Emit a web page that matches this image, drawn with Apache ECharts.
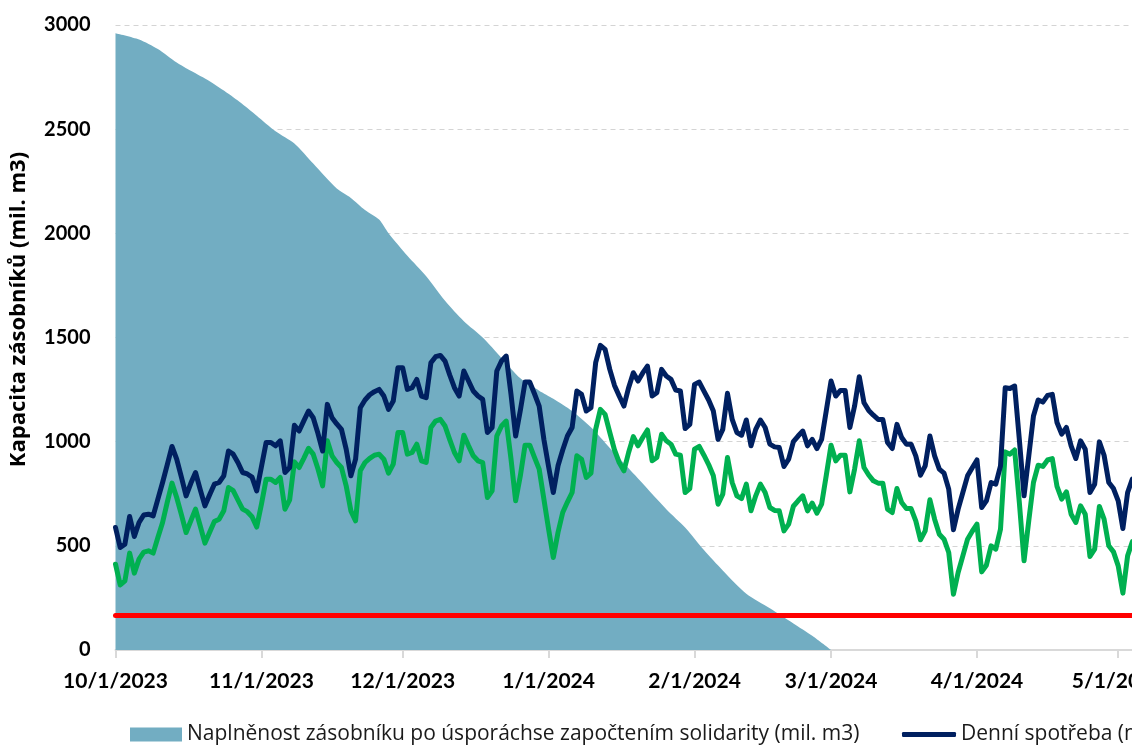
<!DOCTYPE html>
<html>
<head>
<meta charset="utf-8">
<script src="https://cdn.jsdelivr.net/npm/echarts@6/dist/echarts.min.js"></script>
<style>
  html, body { margin: 0; padding: 0; background: #ffffff; overflow: hidden; }
  #chart { width: 1132px; height: 747px; }
</style>
</head>
<body>
<div id="chart"></div>
<script>
// ---------------- data ----------------
const storageName = 'Naplněnost zásobníku po úsporáchse započtením solidarity (mil. m3)';
const demandName = 'Denní spotřeba (mil. m3)';
const demandSavedName = 'Denní spotřeba po úsporách (mil. m3)';
const thresholdName = 'Minimální úroveň zásob (mil. m3)';

const axisStart = '2023-10-01';
const axisEnd = '2024-06-01';
const monthTicks = ['2023-10-01', '2023-11-01', '2023-12-01', '2024-01-01', '2024-02-01',
                    '2024-03-01', '2024-04-01', '2024-05-01', '2024-06-01'];

// storage level (area), mil. m3
const storage = [
  ['2023-10-01', 2961], ['2023-10-06', 2931], ['2023-10-10', 2885], ['2023-10-14', 2820],
  ['2023-10-17', 2780], ['2023-10-21', 2730], ['2023-10-25', 2670], ['2023-10-28', 2620],
  ['2023-10-31', 2565], ['2023-11-04', 2490], ['2023-11-08', 2431], ['2023-11-12', 2335],
  ['2023-11-17', 2215], ['2023-11-20', 2170], ['2023-11-23', 2112], ['2023-11-26', 2066],
  ['2023-11-28', 2000], ['2023-12-02', 1892], ['2023-12-06', 1794], ['2023-12-10', 1676],
  ['2023-12-14', 1578], ['2023-12-18', 1500], ['2023-12-22', 1402], ['2023-12-26', 1304],
  ['2023-12-30', 1245], ['2024-01-02', 1206], ['2024-01-06', 1147], ['2024-01-10', 1069],
  ['2024-01-14', 970],  ['2024-01-18', 872],  ['2024-01-22', 774],  ['2024-01-26', 676],
  ['2024-01-30', 588],  ['2024-02-03', 480],  ['2024-02-07', 382],  ['2024-02-12', 270],
  ['2024-02-17', 200],  ['2024-02-22', 127],  ['2024-02-26', 68],   ['2024-03-01', 0]
];

// daily consumption, one value per day starting 2023-10-01
const demand = [
  588, 492, 508, 641, 545, 612, 648, 652, 644, 724,
  804, 890, 977, 916, 830, 740, 800, 852, 770, 692,
  745, 796, 804, 836, 955, 940, 900, 852, 845, 830,
  764, 880, 996, 996, 980, 1004, 852, 876, 1079, 1051,
  1100, 1147, 1115, 1040, 955, 1179, 1115, 1085, 1059, 964,
  836, 916, 1163, 1200, 1225, 1240, 1251, 1219, 1155, 1195,
  1355, 1355, 1251, 1259, 1299, 1219, 1211, 1379, 1408, 1414,
  1387, 1320, 1259, 1219, 1339, 1291, 1243, 1219, 1203, 1044,
  1068, 1339, 1387, 1411, 1230, 1027, 1150, 1286, 1286, 1230,
  1171, 1011, 880, 756, 884, 960, 1027, 1068, 1243, 1227,
  1147, 1163, 1379, 1462, 1443, 1347, 1270, 1219, 1171, 1259,
  1331, 1291, 1330, 1363, 1219, 1235, 1347, 1315, 1299, 1248,
  1243, 1063, 1083, 1275, 1286, 1243, 1200, 1147, 1011, 1059,
  1232, 1107, 1044, 1031, 1104, 980, 1059, 1104, 1068, 988,
  975, 972, 881, 916, 1000, 1027, 1051, 980, 1011, 967,
  1011, 1150, 1291, 1219, 1246, 1246, 1068, 1171, 1312, 1187,
  1150, 1127, 1107, 1107, 996, 967, 1083, 1020, 988, 988,
  932, 839, 884, 1027, 932, 868, 849, 772, 577, 676,
  756, 836, 875, 912, 684, 716, 804, 796, 884, 1259,
  1255, 1267, 1010, 740, 930, 1123, 1200, 1190, 1222, 1227,
  1092, 1036, 1068, 980, 919, 1004, 964, 756, 796, 999,
  935, 804, 775, 716, 583, 756, 820
];

// daily consumption after savings, one value per day starting 2023-10-01
const demandSaved = [
  412, 312, 332, 465, 369, 436, 470, 476, 465, 540,
  612, 710, 801, 732, 650, 564, 620, 676, 595, 513,
  565, 617, 628, 668, 780, 765, 720, 676, 664, 640,
  590, 700, 820, 820, 804, 828, 676, 721, 903, 876,
  920, 968, 940, 870, 788, 1004, 932, 900, 876, 788,
  668, 620, 860, 900, 920, 935, 940, 916, 849, 892,
  1044, 1044, 940, 948, 988, 908, 900, 1068, 1099, 1107,
  1075, 1010, 948, 908, 1031, 980, 932, 908, 900, 732,
  764, 1027, 1075, 1099, 920, 716, 836, 983, 983, 925,
  868, 724, 580, 444, 564, 660, 710, 756, 932, 916,
  828, 849, 1059, 1155, 1131, 1044, 960, 900, 860, 948,
  1024, 980, 1020, 1056, 908, 924, 1036, 1004, 988, 940,
  935, 756, 775, 964, 977, 935, 890, 836, 700, 748,
  924, 804, 740, 727, 796, 668, 740, 796, 756, 684,
  670, 668, 572, 604, 690, 716, 740, 668, 705, 657,
  700, 840, 983, 908, 935, 935, 759, 868, 1004, 876,
  840, 812, 801, 801, 676, 660, 775, 708, 679, 679,
  620, 529, 572, 721, 628, 556, 532, 468, 268, 372,
  452, 532, 570, 604, 375, 407, 500, 484, 580, 951,
  940, 960, 708, 428, 620, 804, 887, 881, 912, 919,
  785, 724, 759, 652, 612, 692, 652, 449, 484, 689,
  628, 500, 471, 404, 273, 452, 520
];

const thresholdLevel = 168;

const yTicks = { min: 0, max: 3000, step: 500 };

// ---------------- helpers ----------------
function toTime(s) {
  const p = s.split('-').map(Number);
  return new Date(p[0], p[1] - 1, p[2]).getTime();
}
function dailyPairs(values) {
  const p = axisStart.split('-').map(Number);
  return values.map((v, i) => [new Date(p[0], p[1] - 1, p[2] + i).getTime(), v]);
}
function fmtDate(val) {
  const d = new Date(val);
  return (d.getMonth() + 1) + '/' + d.getDate() + '/' + d.getFullYear();
}

const FONT = 'Lato';
const LFONT = 'Open Sans';
const minT = toTime(axisStart);
const maxT = toTime(axisEnd);
const dayCount = Math.round((maxT - minT) / 86400000);
const pxPerDay = 4.7075;
const tickTimes = monthTicks.map(toTime);

const chart = echarts.init(document.getElementById('chart'), null, { renderer: 'canvas' });

chart.setOption({
  animation: false,
  backgroundColor: '#ffffff',
  grid: {
    left: 115.5,
    top: 25,
    height: 625,
    width: dayCount * pxPerDay,
    outerBoundsMode: 'none',
    containLabel: false
  },
  legend: [
    {
      data: [{ name: storageName, icon: 'rect' }],
      left: 130,
      top: 724,
      padding: 0,
      itemWidth: 52,
      itemHeight: 14,
      itemGap: 0,
      selectedMode: false,
      textStyle: { fontFamily: LFONT, fontSize: 21, color: '#1a1a1a' }
    },
    {
      data: [{ name: demandName, icon: 'roundRect' }],
      left: 902,
      top: 724,
      padding: 0,
      itemWidth: 54,
      itemHeight: 5,
      itemGap: 0,
      selectedMode: false,
      textStyle: { fontFamily: LFONT, fontSize: 21, color: '#1a1a1a' }
    }
  ],
  xAxis: {
    type: 'value',
    min: minT,
    max: maxT,
    axisLine: { show: true, lineStyle: { color: '#d9d9d9', width: 2 } },
    axisTick: { show: true, length: 8, lineStyle: { color: '#d9d9d9', width: 2 }, customValues: tickTimes },
    axisLabel: {
      customValues: tickTimes,
      formatter: fmtDate,
      margin: 21,
      fontFamily: FONT,
      fontSize: 21,
      fontWeight: 'bold',
      color: '#000000'
    },
    splitLine: { show: false }
  },
  yAxis: {
    type: 'value',
    min: yTicks.min,
    max: yTicks.max,
    interval: yTicks.step,
    name: 'Kapacita zásobníků (mil. m3)',
    nameLocation: 'middle',
    nameGap: 86,
    nameRotate: 90,
    nameTextStyle: {
      fontFamily: LFONT, fontSize: 22, fontWeight: 'bold', color: '#000000',
      padding: [0, 0, 0, 56]
    },
    axisLine: { show: false },
    axisTick: { show: false },
    axisLabel: {
      margin: 25,
      formatter: v => String(v),
      fontFamily: FONT,
      fontSize: 20,
      fontWeight: 'bold',
      color: '#000000'
    },
    splitLine: { show: true, lineStyle: { color: '#d4d4d4', width: 1, type: [5, 4] } }
  },
  series: [
    {
      name: storageName,
      type: 'line',
      data: storage.map(d => [toTime(d[0]), d[1]]),
      symbol: 'none',
      smooth: 0.25,
      color: '#72adc2',
      lineStyle: { width: 0 },
      areaStyle: { color: '#72adc2', opacity: 1 },
      z: 1,
      markLine: {
        silent: true,
        symbol: ['none', 'none'],
        label: { show: false },
        lineStyle: { color: '#ff0000', width: 5, type: 'solid', cap: 'round' },
        data: [{ name: thresholdName, yAxis: thresholdLevel }]
      }
    },
    {
      name: demandSavedName,
      type: 'line',
      data: dailyPairs(demandSaved),
      symbol: 'none',
      color: '#00b050',
      lineStyle: { width: 5, color: '#00b050', cap: 'round', join: 'round' },
      z: 3
    },
    {
      name: demandName,
      type: 'line',
      data: dailyPairs(demand),
      symbol: 'none',
      color: '#002060',
      lineStyle: { width: 5, color: '#002060', cap: 'round', join: 'round' },
      z: 4
    }
  ]
});
</script>
</body>
</html>
